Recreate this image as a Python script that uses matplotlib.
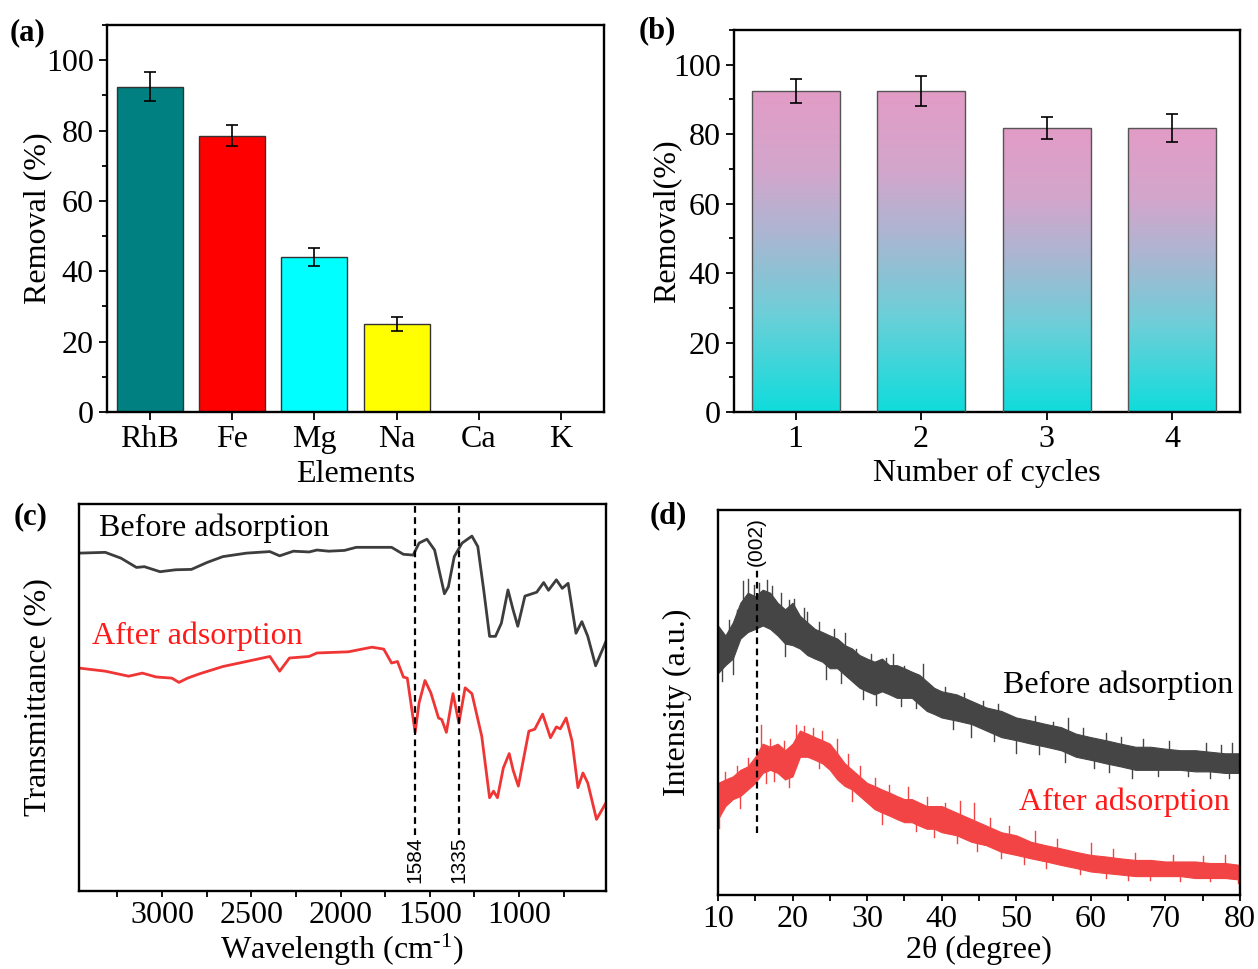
import numpy as np
import matplotlib
matplotlib.use('Agg')
import matplotlib.pyplot as plt
from matplotlib.colors import LinearSegmentedColormap
from matplotlib.ticker import MultipleLocator, NullLocator

plt.rcParams['font.family'] = ['Liberation Serif', 'DejaVu Serif']
plt.rcParams['mathtext.fontset'] = 'stix'

# ---------------- data ----------------
# (a) removal by element
elements = ['RhB', 'Fe', 'Mg', 'Na', 'Ca', 'K']
elem_removal = [92.5, 78.5, 44.0, 25.0, 0.0, 0.0]
elem_err = [4.0, 3.0, 2.5, 2.0, 0.0, 0.0]
elem_colors = ['#008080', '#ff0000', '#00ffff', '#ffff00', '#cccccc', '#cccccc']

# (b) recycling
cycles = [1, 2, 3, 4]
cycle_removal = [92.5, 92.5, 81.7, 81.7]
cycle_err = [3.5, 4.3, 3.2, 4.0]

# (c) FTIR (wavenumber, relative transmittance)
ftir_before_wn = [3465, 3318, 3230, 3143, 3099, 3011, 2923, 2835, 2747, 2659, 2527, 2396, 2341,
                  2264, 2176, 2132, 2066, 1978, 1912, 1714, 1648, 1593, 1560, 1516, 1473, 1440,
                  1418, 1396, 1363, 1319, 1264, 1231, 1198, 1165, 1132, 1099, 1062, 1033, 1007,
                  967, 901, 862, 835, 791, 758, 725, 681, 648, 615, 571, 513]
ftir_before_t = [87.3, 87.5, 86.0, 83.6, 83.8, 82.5, 83.0, 83.1, 84.9, 86.4, 87.3, 87.7, 86.6,
                 87.8, 87.6, 88.1, 87.8, 88.0, 88.8, 88.8, 87.0, 86.8, 89.9, 90.9, 88.1, 81.3,
                 76.8, 78.6, 86.4, 89.9, 91.7, 89.0, 77.8, 65.8, 65.8, 69.2, 77.8, 72.6, 68.4,
                 76.2, 77.2, 79.7, 77.7, 80.4, 78.2, 79.5, 66.6, 69.6, 65.8, 58.2, 64.5]
ftir_after_wn = [3465, 3318, 3187, 3110, 3033, 2945, 2905, 2857, 2791, 2659, 2527, 2396, 2341,
                 2286, 2176, 2132, 1956, 1824, 1758, 1714, 1681, 1648, 1626, 1582, 1560, 1527,
                 1494, 1451, 1433, 1407, 1370, 1337, 1302, 1264, 1209, 1165, 1143, 1121, 1088,
                 1055, 1033, 1004, 945, 912, 868, 824, 791, 769, 736, 703, 670, 642, 615, 566, 513]
ftir_after_t = [57.6, 56.8, 55.5, 56.3, 55.3, 55.0, 53.9, 55.0, 56.1, 58.0, 59.3, 60.6, 56.8,
                60.2, 60.6, 61.5, 61.8, 63.0, 62.5, 58.9, 59.3, 55.3, 55.0, 41.0, 48.6, 54.4,
                51.2, 44.7, 44.3, 41.0, 51.0, 43.4, 52.5, 51.0, 40.0, 24.1, 25.8, 24.1, 31.8,
                35.5, 31.2, 27.1, 41.3, 41.8, 45.7, 39.6, 42.4, 41.9, 44.7, 38.7, 26.7, 30.5,
                27.9, 18.5, 22.8]
ftir_marks = [1584, 1335]

# (d) XRD noise band (upper / lower edges of the noisy trace)
xrd_2theta = [10, 11, 12, 13, 14, 15, 16, 17, 18, 19, 20, 21, 22, 23, 24, 25, 26, 27, 28, 29, 30,
              31, 32, 33, 34, 35, 36, 37, 38, 39, 40, 42, 44, 46, 48, 50, 52, 54, 56, 58, 60,
              62, 64, 66, 68, 70, 72, 74, 76, 78, 80]
xrd_before_hi = [70.0, 67.4, 70.8, 75.9, 78.5, 77.6, 79.3, 78.5, 75.9, 74.2, 75.9, 72.5, 70.8,
                 69.1, 68.3, 67.4, 66.6, 64.9, 64.0, 62.3, 61.4, 60.6, 61.4, 59.7, 59.7, 58.9,
                 58.0, 57.2, 55.5, 53.8, 52.9, 52.1, 50.4, 48.7, 47.8, 46.1, 45.3, 44.4, 43.6,
                 41.9, 41.0, 40.2, 39.3, 38.5, 38.5, 38.0, 37.6, 37.6, 37.2, 36.8, 36.8]
xrd_before_lo = [57.6, 59.7, 61.4, 66.6, 68.3, 69.1, 70.0, 69.1, 67.4, 65.3, 64.9, 64.0, 62.3,
                 61.4, 60.6, 58.9, 58.9, 57.2, 55.5, 53.8, 52.9, 52.1, 52.9, 52.1, 51.2, 51.2,
                 51.2, 49.5, 47.8, 47.0, 46.1, 45.3, 44.4, 42.7, 41.0, 40.2, 39.3, 38.5, 37.6,
                 35.9, 35.1, 34.2, 33.4, 32.5, 32.5, 32.5, 32.5, 32.1, 32.1, 31.7, 31.7]
xrd_after_hi = [29.1, 30.0, 30.8, 32.5, 33.4, 35.9, 39.3, 38.5, 39.3, 37.6, 39.3, 42.7, 41.9,
                41.0, 40.2, 39.3, 36.8, 34.2, 32.5, 30.8, 29.1, 28.3, 27.4, 26.6, 25.7, 24.9,
                24.9, 24.0, 23.1, 23.1, 23.1, 21.4, 19.7, 18.0, 16.3, 15.5, 13.8, 12.9, 12.1,
                11.2, 10.4, 10.0, 9.5, 9.1, 9.1, 8.7, 8.7, 8.7, 8.3, 8.3, 7.8]
xrd_after_lo = [19.7, 23.1, 24.9, 25.7, 27.4, 29.1, 31.7, 32.5, 31.7, 30.0, 30.8, 35.9, 35.9,
                35.1, 34.2, 32.5, 30.0, 28.3, 27.4, 25.7, 24.0, 22.3, 21.4, 20.6, 19.7, 18.9,
                18.9, 18.0, 17.2, 17.2, 16.3, 15.5, 13.8, 12.9, 11.2, 10.4, 9.5, 8.7, 7.8, 7.0,
                6.1, 5.7, 5.3, 4.9, 4.9, 4.9, 4.9, 4.4, 4.4, 4.4, 4.0]
# individual noise spikes (2theta, base, tip)
xrd_before_spikes = [(13.3, 74, 81.5), (14.8, 75, 80.5), (16.6, 76, 81.7), (17.2, 76, 80.2),
                     (20.2, 72, 77.0), (22.0, 68, 73.5), (27.0, 62, 68.0), (33.5, 57, 62.5),
                     (37.5, 55, 60.0), (57.0, 40, 46.0), (62.0, 38, 42.0), (79.0, 35, 39.5),
                     (10.5, 62, 55.5), (31.2, 55, 49.4), (38.8, 52, 50.5), (50.0, 41, 37.0),
                     (65.5, 34, 30.5), (73.0, 34, 31.0),
                     (11.5, 66, 71.5), (12.5, 68, 74.0), (14.0, 75, 82.0), (15.5, 75, 81.0),
                     (18.5, 72, 78.5), (19.5, 71, 76.5), (21.5, 70, 74.5), (23.5, 66, 71.0),
                     (25.5, 63, 69.0), (28.5, 58, 64.0), (30.5, 57, 62.5), (32.5, 56, 61.5),
                     (35.0, 55, 59.5), (40.5, 50, 54.0), (43.0, 48, 52.5), (45.5, 46, 50.5),
                     (47.5, 45, 49.5), (52.5, 43, 46.5), (55.0, 41, 45.0), (59.0, 39, 43.5),
                     (64.0, 37, 41.0), (67.0, 37, 40.5), (70.5, 36, 40.0), (75.5, 35, 39.5),
                     (77.5, 35, 39.0),
                     (12.0, 63, 57.5), (19.0, 67, 62.0), (24.5, 62, 56.0), (26.5, 60, 55.0),
                     (29.5, 56, 51.0), (34.5, 53, 49.0), (36.5, 52, 48.5), (41.5, 47, 43.0),
                     (44.0, 45, 41.0), (47.0, 44, 40.0), (53.0, 40, 36.5), (56.5, 38, 34.5),
                     (60.5, 36, 33.0), (62.5, 36, 32.0), (69.0, 35, 31.0), (76.0, 34, 30.5),
                     (78.5, 34, 30.5)]
xrd_after_spikes = [(15.8, 36, 44.2), (20.5, 38, 44.2), (22.8, 39, 43.5), (26.0, 36, 40.5),
                    (35.5, 24, 28.0), (42.5, 20, 24.5), (44.3, 18, 24.0), (60.0, 10, 13.5),
                    (10.2, 24, 17.5), (17.5, 34, 29.5), (36.5, 19, 16.5), (44.8, 14, 11.5),
                    (58.5, 8, 5.5), (68.0, 6, 3.8), (79.8, 6, 3.0),
                    (11.0, 27, 32.0), (12.5, 29, 33.5), (14.0, 30, 35.5), (17.0, 35, 40.5),
                    (18.8, 35, 40.0), (21.5, 39, 44.0), (24.0, 37, 42.5), (27.5, 32, 36.5),
                    (29.0, 29, 33.5), (31.0, 27, 30.5), (33.0, 24, 28.5), (38.0, 21, 25.5),
                    (40.5, 20, 24.0), (46.5, 16, 20.0), (49.0, 14, 18.0), (52.5, 13, 16.5),
                    (55.5, 11, 14.5), (63.0, 8.5, 12.0), (66.0, 7.5, 11.0), (71.0, 7, 10.5),
                    (75.0, 7, 10.0), (78.0, 7, 10.5),
                    (13.0, 27, 22.5), (16.5, 33, 29.0), (19.5, 32, 28.0), (23.5, 37, 33.0),
                    (28.0, 29, 24.5), (32.0, 22, 18.5), (39.0, 19, 15.0), (42.0, 17, 13.5),
                    (48.0, 13, 9.5), (51.0, 11, 8.0), (54.0, 10, 7.0), (62.0, 7, 4.5),
                    (65.0, 6.5, 4.0), (72.0, 6, 3.5), (76.0, 6, 3.5)]
xrd_mark = 15.2

# ---------------- figure ----------------
fig = plt.figure(figsize=(12.58, 9.69), dpi=100)
axA = fig.add_axes([0.0851, 0.5748, 0.3950, 0.3994])
axB = fig.add_axes([0.5835, 0.5748, 0.4022, 0.3942])
axC = fig.add_axes([0.0628, 0.0805, 0.4189, 0.3994])
axD = fig.add_axes([0.5707, 0.0764, 0.4149, 0.3973])

FS = 23


def style(ax):
    for s in ax.spines.values():
        s.set_linewidth(1.7)
    ax.tick_params(which='both', direction='out', top=False, right=False,
                   labelsize=FS, width=1.3)
    ax.tick_params(which='major', length=6)
    ax.tick_params(which='minor', length=3.5)


# (a)
style(axA)
xa = np.arange(len(elements))
axA.bar(xa, elem_removal, width=0.8, color=elem_colors, edgecolor='#333333', linewidth=1.0,
        zorder=2)
nz = [i for i, v in enumerate(elem_removal) if v > 0]
axA.errorbar([xa[i] for i in nz], [elem_removal[i] for i in nz], yerr=[elem_err[i] for i in nz],
             fmt='none', ecolor='black', elinewidth=1.2, capsize=4, capthick=1.2, zorder=3)
axA.set_xlim(-0.52, 5.52)
axA.set_ylim(0, 110)
axA.set_xticks(xa)
axA.set_xticklabels(elements)
axA.yaxis.set_major_locator(MultipleLocator(20))
axA.yaxis.set_minor_locator(MultipleLocator(10))
axA.set_yticks([0, 20, 40, 60, 80, 100])
axA.set_ylabel('Removal (%)', fontsize=FS)
axA.set_xlabel('Elements', fontsize=FS, labelpad=4)
axA.yaxis.set_label_coords(-0.11, 0.5)

# (b)
style(axB)
cmap = LinearSegmentedColormap.from_list(
    'grad', [(0.0, '#10dcdc'), (0.3, '#6ccfd8'), (0.55, '#abb6d2'), (0.75, '#d3a6cc'),
             (1.0, '#e29cc6')])
grad = np.linspace(0, 1, 256).reshape(-1, 1)
bw = 0.7
for xi, h in zip(cycles, cycle_removal):
    patch = axB.bar(xi, h, width=bw, facecolor='none', edgecolor='#555555', linewidth=1.0,
                    zorder=3)[0]
    im = axB.imshow(grad, cmap=cmap, origin='lower', aspect='auto',
                    extent=[xi - bw / 2, xi + bw / 2, 0, h], zorder=2)
    im.set_clip_path(patch)
axB.errorbar(cycles, cycle_removal, yerr=cycle_err, fmt='none', ecolor='black', elinewidth=1.2,
             capsize=4, capthick=1.2, zorder=4)
axB.set_xlim(0.51, 4.54)
axB.set_ylim(0, 110)
axB.set_xticks(cycles)
axB.yaxis.set_major_locator(MultipleLocator(20))
axB.yaxis.set_minor_locator(MultipleLocator(10))
axB.set_yticks([0, 20, 40, 60, 80, 100])
axB.set_ylabel('Removal(%)', fontsize=FS)
axB.set_xlabel('Number of cycles', fontsize=FS, labelpad=3)
axB.yaxis.set_label_coords(-0.105, 0.5)

# (c)
style(axC)
axC.tick_params(which='both', length=4)
axC.plot(ftir_before_wn, ftir_before_t, color='#3d3d3d', lw=2.0, solid_joinstyle='round')
axC.plot(ftir_after_wn, ftir_after_t, color='#f03535', lw=2.0, solid_joinstyle='round')
for m in ftir_marks:
    axC.plot([m, m], [14.5, 100], color='black', lw=1.6, ls=(0, (3, 2)))
    axC.text(m, 8.0, str(m), rotation=90, ha='center', va='center', fontsize=15,
             family=['Liberation Sans', 'DejaVu Sans'])
axC.text(3355, 93.8, 'Before adsorption', fontsize=FS, color='black', ha='left', va='center')
axC.text(3390, 65.7, 'After adsorption', fontsize=FS, color='#ff1a1a', ha='left', va='center')
axC.set_xlim(3465, 513)
axC.set_ylim(0, 100)
axC.xaxis.set_major_locator(MultipleLocator(500))
axC.xaxis.set_minor_locator(MultipleLocator(250))
axC.set_xticks([3000, 2500, 2000, 1500, 1000])
axC.yaxis.set_major_locator(NullLocator())
axC.set_ylabel('Transmittance (%)', fontsize=FS)
axC.set_xlabel('Wavelength (cm$^{\\mathregular{\u2010 1}}$)', fontsize=FS, labelpad=0.5)
axC.yaxis.set_label_coords(-0.05, 0.5)

# (d)
style(axD)
axD.tick_params(which='both', length=4)
axD.fill_between(xrd_2theta, xrd_before_lo, xrd_before_hi, color='#454545', lw=0.8,
                 edgecolor='#454545')
axD.fill_between(xrd_2theta, xrd_after_lo, xrd_after_hi, color='#f24444', lw=0.8,
                 edgecolor='#f24444')
for x, b, t in xrd_before_spikes:
    axD.plot([x, x], [b, t], color='#454545', lw=1.0)
for x, b, t in xrd_after_spikes:
    axD.plot([x, x], [b, t], color='#f24444', lw=1.0)
axD.plot([xrd_mark, xrd_mark], [16, 84.4], color='black', lw=1.6, ls=(0, (3, 2)))
axD.text(xrd_mark, 91.9, '(002)', rotation=90, ha='center', va='center', fontsize=15,
         family=['Liberation Sans', 'DejaVu Sans'])
axD.text(79.1, 54.6, 'Before adsorption', fontsize=FS, color='black', ha='right', va='center')
axD.text(78.6, 24.0, 'After adsorption', fontsize=FS, color='#ff1a1a', ha='right', va='center')
axD.set_xlim(10, 80)
axD.set_ylim(0, 100)
axD.xaxis.set_major_locator(MultipleLocator(10))
axD.xaxis.set_minor_locator(MultipleLocator(5))
axD.yaxis.set_major_locator(NullLocator())
axD.set_ylabel('Intensity (a.u.)', fontsize=FS)
axD.set_xlabel('2\u03b8 (degree)', fontsize=FS, labelpad=1)
axD.yaxis.set_label_coords(-0.05, 0.5)

# panel labels
for x, y, s in [(0.008, 0.966, '(a)'), (0.508, 0.968, '(b)'), (0.011, 0.4665, '(c)'),
                (0.516, 0.4675, '(d)')]:
    fig.text(x, y, s, fontsize=22, fontweight='bold', ha='left', va='center')

fig.savefig('out.png', dpi=100)
